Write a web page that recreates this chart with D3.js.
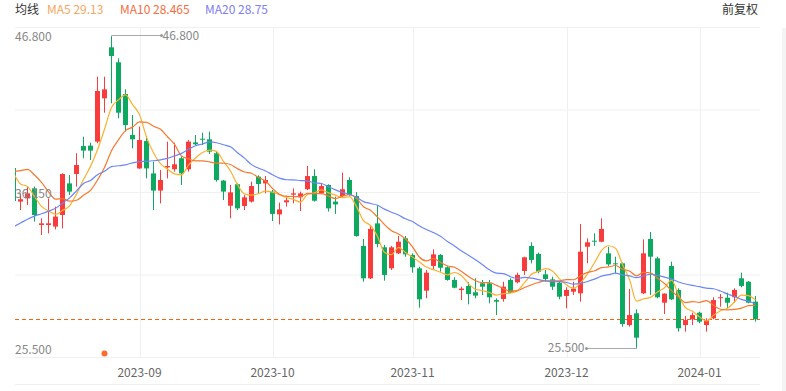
<!DOCTYPE html>
<html><head><meta charset="utf-8">
<script src="https://cdn.jsdelivr.net/npm/d3@7"></script>
<style>
html,body{margin:0;padding:0;background:#fff;}
svg{display:block;font-family:"Noto Sans CJK SC","Noto Sans",sans-serif;}
</style></head><body>
<svg id="chart" width="786" height="391"></svg>
<script>
// ---------- DATA ----------
const dates = [
"2023-08-08","2023-08-09","2023-08-10","2023-08-11","2023-08-14","2023-08-15","2023-08-16","2023-08-17","2023-08-18","2023-08-21","2023-08-22","2023-08-23","2023-08-24","2023-08-25","2023-08-28","2023-08-29","2023-08-30","2023-08-31",
"2023-09-04","2023-09-05","2023-09-06","2023-09-07","2023-09-11","2023-09-12","2023-09-13","2023-09-14","2023-09-15","2023-09-18","2023-09-19","2023-09-20","2023-09-21","2023-09-22","2023-09-25","2023-09-26","2023-09-27","2023-09-28","2023-09-29",
"2023-10-03","2023-10-04","2023-10-05","2023-10-06","2023-10-09","2023-10-10","2023-10-11","2023-10-12","2023-10-13","2023-10-16","2023-10-17","2023-10-18","2023-10-19","2023-10-20","2023-10-24","2023-10-25","2023-10-26","2023-10-27","2023-10-30","2023-10-31",
"2023-11-01","2023-11-02","2023-11-03","2023-11-06","2023-11-07","2023-11-08","2023-11-09","2023-11-10","2023-11-13","2023-11-14","2023-11-15","2023-11-16","2023-11-17","2023-11-20","2023-11-21","2023-11-22","2023-11-23","2023-11-24","2023-11-27","2023-11-28","2023-11-29","2023-11-30",
"2023-12-01","2023-12-04","2023-12-05","2023-12-06","2023-12-07","2023-12-08","2023-12-11","2023-12-12","2023-12-13","2023-12-14","2023-12-15","2023-12-18","2023-12-19","2023-12-20","2023-12-21","2023-12-22","2023-12-27","2023-12-28","2023-12-29",
"2024-01-02","2024-01-03","2024-01-04","2024-01-05","2024-01-08","2024-01-09","2024-01-10","2024-01-11","2024-01-12"];

const open = [37.82,35.53,35.75,36.43,33.94,33.94,33.83,34.62,36.77,37.41,39.31,39.34,39.61,42.56,46.03,45.01,42.85,40.06,
37.79,39.65,37.45,36.28,37.86,37.73,38.48,37.73,39.56,39.81,39.77,38.82,36.96,35.25,36.71,35.23,35.53,37.23,36.77,
36.21,34.66,35.48,36.00,35.82,36.37,37.27,36.09,36.66,35.53,35.91,37.00,35.91,32.51,30.31,34.05,32.42,30.99,32.01,33.03,
31.90,30.99,29.47,31.15,31.90,31.06,30.20,29.51,29.79,29.36,29.97,29.97,28.83,28.90,30.20,30.04,30.81,32.51,31.97,30.58,30.24,30.01,
29.11,29.40,29.29,32.46,32.87,32.80,32.01,31.33,31.33,27.13,27.93,29.29,32.99,31.67,28.65,31.15,29.52,27.13,27.52,
27.97,27.13,27.59,28.97,28.99,29.02,30.31,30.08,28.72];
const high = [37.90,36.09,36.55,36.55,34.39,35.75,35.19,37.45,37.34,38.82,39.95,39.54,44.03,44.03,46.80,45.28,43.17,41.42,
40.63,39.95,38.25,37.68,39.61,39.54,38.59,39.72,40.06,40.22,40.29,38.93,37.00,36.66,36.77,35.98,36.89,37.32,37.27,
36.32,35.46,35.93,36.43,36.21,37.95,37.73,36.77,36.71,35.87,37.50,37.18,36.18,32.99,33.87,35.30,32.58,32.51,33.19,33.19,
32.01,31.10,30.88,32.28,31.96,31.15,30.38,29.74,30.06,30.31,30.20,30.20,28.95,30.08,30.31,30.69,31.78,32.76,32.06,30.88,30.42,30.13,
29.70,30.08,34.01,33.03,33.37,34.39,32.46,31.78,31.38,29.58,28.20,32.96,33.46,31.78,29.29,31.44,29.63,27.75,27.97,
28.04,27.59,29.02,29.24,29.33,29.63,30.69,30.13,29.11];
const low = [35.50,34.96,35.30,34.17,33.26,33.37,33.64,33.71,35.98,36.55,38.48,38.36,39.50,41.58,42.22,41.20,40.29,39.16,
37.75,37.11,34.96,35.41,37.11,37.57,36.66,37.57,39.38,39.38,38.77,36.89,35.64,34.39,34.96,34.96,35.46,36.09,36.09,
34.21,33.98,35.19,35.41,34.89,36.32,35.53,36.03,34.85,34.69,35.87,35.93,33.14,30.08,30.26,32.42,30.15,30.88,31.96,31.78,
30.69,28.31,28.95,30.88,30.76,30.15,29.63,28.83,28.54,28.95,29.17,28.61,27.81,28.72,29.29,29.97,30.54,31.33,30.65,30.08,29.52,28.88,
28.27,29.18,28.72,31.33,32.51,32.76,31.15,30.65,27.02,27.02,25.50,29.24,29.18,28.95,27.88,28.83,26.68,26.68,27.13,
27.25,26.68,27.52,28.38,28.27,28.68,29.70,28.61,27.36];
const close = [35.57,35.69,36.09,34.62,34.05,34.05,34.51,37.41,36.21,38.02,39.00,39.00,43.06,43.17,45.44,41.58,40.74,39.77,
39.72,37.79,36.28,37.00,37.95,38.07,37.45,39.61,39.43,39.77,38.93,37.00,36.21,36.16,35.07,35.82,36.59,36.73,37.00,
34.69,35.00,35.62,36.09,36.09,37.27,35.59,36.59,35.07,35.34,36.37,35.98,33.19,30.31,33.67,32.65,30.54,32.42,32.80,31.94,
31.06,28.88,30.69,31.94,31.03,30.20,29.67,29.61,29.24,29.13,29.74,29.02,28.72,29.74,29.33,30.54,31.74,31.56,30.76,30.26,29.74,29.06,
29.52,29.61,32.12,32.76,32.83,33.67,31.26,31.26,27.20,27.81,26.27,32.01,31.78,29.02,29.27,28.88,26.91,27.47,27.81,
27.36,27.47,28.83,29.02,28.65,29.52,29.79,28.65,27.52];
// closes before the visible window (estimated from where the MA lines start)
const priorCloses = [30.6,30.9,30.4,30.8,30.5,30.7,30.4,29.0,28.6,28.8,35.0,35.2,38.5,39.0,40.5,39.5,37.0,38.0,37.4];

const maPeriods = [5, 10, 20];
const maNames = ["MA5", "MA10", "MA20"];
const maLegendValues = ["29.13", "28.465", "28.75"];
const eventDates = ["2023-08-25"];
const legendTitle = "均线";
const adjustLabel = "前复权";

// ---------- STYLE / LAYOUT ----------
const W = 786, H = 391;
const plotL = 15, plotR = 760, gridTop = 27.5, gridBottom = 357.5, axisLineY = 384.5;
const UP = "#f93b3b", DOWN = "#0ea960";
const maColors = ["#fbb12e", "#f7782c", "#6c86f8"];
const maTextColors = ["#f6a65e", "#f56d3f", "#7c80f2"];

const svg = d3.select("#chart");
const n = dates.length;

const x = d3.scaleBand().domain(dates).range([10, 10 + 7 * n]).padding(0);
const cx = d => x(d) + x.bandwidth() / 2;
const yMin = d3.min(low), yMax = d3.max(high);
const y = d3.scaleLinear().domain([yMin, yMax]).range([349, 36]);

// clip
svg.append("defs").append("clipPath").attr("id", "plotClip")
  .append("rect").attr("x", plotL).attr("y", 0).attr("width", plotR - plotL).attr("height", H);

// horizontal grid
const gridG = svg.append("g");
d3.range(5).forEach(k => {
  const gy = gridTop + k * (gridBottom - gridTop) / 4;
  gridG.append("line").attr("x1", plotL).attr("x2", plotR).attr("y1", gy).attr("y2", gy)
    .attr("stroke", "#f0f0f0").attr("stroke-width", 1);
});
gridG.append("line").attr("x1", plotL).attr("x2", plotR).attr("y1", axisLineY).attr("y2", axisLineY)
  .attr("stroke", "#f0f0f0");

// month ticks: first trading day of each month (excluding first partial month)
const monthFirst = [];
dates.forEach((d, i) => { if (i > 0 && d.slice(0, 7) !== dates[i - 1].slice(0, 7)) monthFirst.push(d); });
monthFirst.forEach(d => {
  gridG.append("line").attr("x1", Math.round(cx(d)) + 0.5).attr("x2", Math.round(cx(d)) + 0.5)
    .attr("y1", gridTop).attr("y2", gridBottom).attr("stroke", "#f0f0f0");
});

// x axis labels
const xAxis = d3.axisBottom(x).tickValues(monthFirst).tickSize(0).tickPadding(0)
  .tickFormat(d => d.slice(0, 7));
const xg = svg.append("g").attr("transform", `translate(0,${368})`).call(xAxis);
xg.select(".domain").remove();
xg.selectAll("text").attr("fill", "#666").attr("font-size", 12)
  .attr("font-family", '"Noto Sans CJK SC","Noto Sans",sans-serif');

// plot group
const plot = svg.append("g").attr("clip-path", "url(#plotClip)");

// dashed last close line
const lastClose = close[n - 1];
plot.append("line").attr("x1", plotL).attr("x2", plotR)
  .attr("y1", Math.round(y(lastClose)) + 0.5).attr("y2", Math.round(y(lastClose)) + 0.5)
  .attr("stroke", "#f5650f").attr("stroke-width", 1).attr("stroke-dasharray", "4,3");

// candles
const candles = dates.map((d, i) => ({ d, o: open[i], h: high[i], l: low[i], c: close[i] }));
const cg = plot.append("g");
const bodyW = 5;
candles.forEach(k => {
  const col = k.c >= k.o ? UP : DOWN;
  const xc = Math.floor(cx(k.d)) + 0.5;
  cg.append("line").attr("x1", xc).attr("x2", xc).attr("y1", y(k.h)).attr("y2", y(k.l))
    .attr("stroke", col).attr("stroke-width", 1);
  const top = y(Math.max(k.o, k.c)), bot = y(Math.min(k.o, k.c));
  cg.append("rect").attr("x", xc - 0.5 - 2).attr("width", bodyW)
    .attr("y", top).attr("height", Math.max(1, bot - top)).attr("fill", col);
});

// moving averages
const allCloses = priorCloses.concat(close);
const off = priorCloses.length;
maPeriods.forEach((p, mi) => {
  const vals = dates.map((d, i) => ({ d, v: d3.mean(allCloses.slice(off + i - p + 1, off + i + 1)) }));
  const line = d3.line().x(e => cx(e.d)).y(e => y(e.v)).curve(d3.curveMonotoneX);
  plot.append("path").datum(vals).attr("d", line).attr("fill", "none")
    .attr("stroke", maColors[mi]).attr("stroke-width", 1.2);
});

// event marker
eventDates.forEach(d => {
  svg.append("circle").attr("cx", cx(d)).attr("cy", 353.5).attr("r", 3).attr("fill", "#ff6a2b");
});

// y labels (max, mid, min)
const yLabels = [yMax, (yMax + yMin) / 2, yMin];
const yAxis = d3.axisRight(y).tickValues(yLabels).tickSize(0).tickPadding(0).tickFormat(d3.format(".3f"));
const yg = svg.append("g").attr("transform", `translate(${plotL},1)`).call(yAxis);
yg.select(".domain").remove();
yg.selectAll("text").attr("fill", "#888").attr("font-size", 12).attr("text-anchor", "start")
  .attr("font-family", '"Noto Sans CJK SC","Noto Sans",sans-serif');

// max annotation
const iMax = high.indexOf(yMax), iMin = low.indexOf(yMin);
const mxX = Math.floor(cx(dates[iMax])) + 0.5, mxY = Math.round(y(yMax)) - 0.5;
svg.append("path").attr("d", `M${mxX},${mxY + 1}V${mxY}H${mxX + 50}`).attr("fill", "none").attr("stroke", "#aaa");
svg.append("circle").attr("cx", mxX + 50).attr("cy", mxY).attr("r", 1.5).attr("fill", "#999");
svg.append("text").attr("x", mxX + 51).attr("y", mxY).attr("dy", "0.35em").attr("font-size", 12)
  .attr("fill", "#888").text(d3.format(".3f")(yMax));

// min annotation
const mnX = Math.floor(cx(dates[iMin])) + 0.5, mnY = Math.round(y(yMin)) - 0.5;
svg.append("path").attr("d", `M${mnX},${mnY - 1}V${mnY}H${mnX - 50}`).attr("fill", "none").attr("stroke", "#aaa");
svg.append("circle").attr("cx", mnX - 50).attr("cy", mnY).attr("r", 1.5).attr("fill", "#999");
svg.append("text").attr("x", mnX - 52).attr("y", mnY - 1).attr("dy", "0.35em").attr("font-size", 12)
  .attr("text-anchor", "end").attr("fill", "#888").text(d3.format(".3f")(yMin));

// legend
const lg = svg.append("g").attr("font-size", 12);
lg.append("text").attr("x", 15).attr("y", 10).attr("dy", "0.35em").attr("fill", "#333").text(legendTitle);
const legendX = [47, 120, 205];
maNames.forEach((nm, i) => {
  lg.append("text").attr("x", legendX[i]).attr("y", 10).attr("dy", "0.35em")
    .attr("fill", maTextColors[i]).text(`${nm} ${maLegendValues[i]}`);
});
lg.append("text").attr("x", 758).attr("y", 10).attr("dy", "0.35em").attr("text-anchor", "end")
  .attr("fill", "#333").text(adjustLabel);

// right scrollbar strip
svg.append("rect").attr("x", 782).attr("y", 28).attr("width", 4).attr("height", H - 28).attr("fill", "#f4f4f4");
</script>
</body></html>
